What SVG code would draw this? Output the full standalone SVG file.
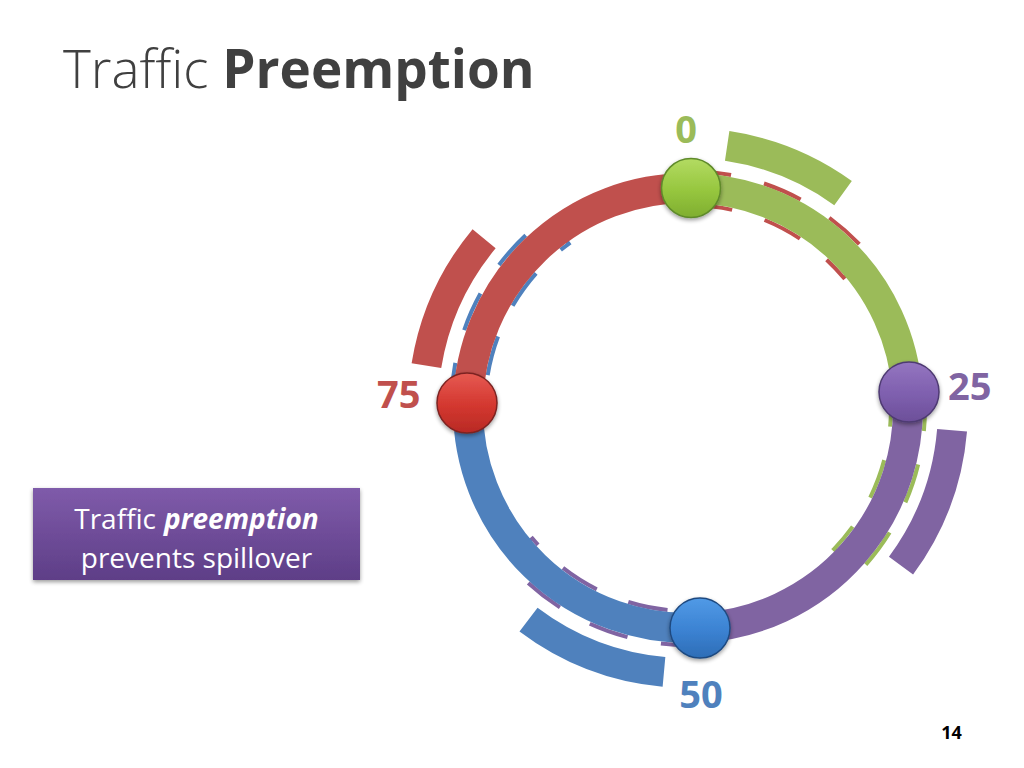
<svg xmlns="http://www.w3.org/2000/svg" width="1024" height="768" viewBox="0 0 1024 768">
  <defs>
    <linearGradient id="gGreen" x1="0" y1="0" x2="0" y2="1">
      <stop offset="0" stop-color="#B3DB62"/>
      <stop offset="0.55" stop-color="#96C63E"/>
      <stop offset="1" stop-color="#7FAE30"/>
    </linearGradient>
    <linearGradient id="gRed" x1="0" y1="0" x2="0" y2="1">
      <stop offset="0" stop-color="#E65A52"/>
      <stop offset="0.55" stop-color="#D3372F"/>
      <stop offset="1" stop-color="#B82A25"/>
    </linearGradient>
    <linearGradient id="gPurple" x1="0" y1="0" x2="0" y2="1">
      <stop offset="0" stop-color="#9475C0"/>
      <stop offset="0.55" stop-color="#7E5FAE"/>
      <stop offset="1" stop-color="#6C4F99"/>
    </linearGradient>
    <linearGradient id="gBlue" x1="0" y1="0" x2="0" y2="1">
      <stop offset="0" stop-color="#519AE6"/>
      <stop offset="0.55" stop-color="#3B82D2"/>
      <stop offset="1" stop-color="#2E6DB6"/>
    </linearGradient>
    <linearGradient id="gBox" x1="0" y1="0" x2="0" y2="1">
      <stop offset="0" stop-color="#7F5BAA"/>
      <stop offset="1" stop-color="#5E3E87"/>
    </linearGradient>
    <filter id="shadow" x="-20%" y="-20%" width="140%" height="150%">
      <feGaussianBlur in="SourceAlpha" stdDeviation="2"/>
      <feOffset dx="0" dy="2" result="b"/>
      <feComponentTransfer><feFuncA type="linear" slope="0.4"/></feComponentTransfer>
      <feMerge><feMergeNode/><feMergeNode in="SourceGraphic"/></feMerge>
    </filter>
  </defs>
  <style>
    .ghost { fill: none; stroke-width: 4; stroke-dasharray: 40 34; }
    .main { fill: none; stroke-width: 30; stroke-linecap: butt; }
    .outer { fill: none; stroke-width: 30; stroke-linecap: butt; }
    .node { stroke-width: 1.5; }
    .lbl { font-family: "Open Sans", "Noto Sans", "DejaVu Sans", sans-serif; font-weight: bold; font-size: 38px; }
    .boxtxt { font-family: "Open Sans", "Noto Sans", sans-serif; font-size: 28px; fill: #FFFFFF; }
    .red { stroke: #C0504D; }
    .green { stroke: #9BBB59; }
    .purple { stroke: #8064A2; }
    .blue { stroke: #4F81BD; }
  </style>

  <rect width="1024" height="768" fill="#FFFFFF"/>

  <text x="63" y="88" font-family="'Open Sans', 'Noto Sans', sans-serif" font-size="53" fill="#404040"><tspan font-weight="300">Traffic </tspan><tspan font-weight="bold">Preemption</tspan></text>

  <g id="connectors">
    <!-- dashed ghost outlines -->
    <path class="ghost red" d="M691.31,171.02 A237,237 0 0 1 869.55,255.66 L843.51,277.51 A203,203 0 0 0 690.83,205.02 Z"/>
    <path class="ghost green" d="M924.39,391.05 A237,237 0 0 1 858.48,572.63 L834.03,549.02 A203,203 0 0 0 890.48,393.49 Z"/>
    <path class="ghost purple" d="M700.82,644.65 A237,237 0 0 1 506.45,560.34 L532.49,538.49 A203,203 0 0 0 698.98,610.70 Z"/>
    <path class="ghost blue" d="M451.06,402.62 A237,237 0 0 1 548.69,216.26 L568.68,243.77 A203,203 0 0 0 485.05,403.39 Z"/>
    <!-- main ring segments -->
    <path class="main red" d="M468.06,403.0 A220,220 0 0 1 691.07,188.0"/>
    <path class="main green" d="M691.07,188.0 A220,220 0 0 1 907.4,392.3"/>
    <path class="main purple" d="M907.4,392.3 A220,220 0 0 1 699.9,627.7"/>
    <path class="main blue" d="M699.9,627.7 A220,220 0 0 1 468.06,403.0"/>
    <!-- outer bands -->
    <path class="outer red" d="M426.41,365.63 A265,265 0 0 1 484.11,238.73"/>
    <path class="outer green" d="M727.17,145.91 A265,265 0 0 1 843.05,193.07"/>
    <path class="outer purple" d="M952.07,430.18 A265,265 0 0 1 901.02,565.63"/>
    <path class="outer blue" d="M663.98,671.91 A265,265 0 0 1 528.52,619.64"/>
  </g>

  <g id="node-0">
    <circle class="node" cx="691" cy="188" r="29.5" fill="url(#gGreen)" stroke="#5E8A2A" filter="url(#shadow)"/>
    <text class="lbl" x="686" y="143" text-anchor="middle" fill="#9BBB59">0</text>
  </g>
  <g id="node-25">
    <circle class="node" cx="909" cy="392" r="30" fill="url(#gPurple)" stroke="#4E3A72" filter="url(#shadow)"/>
    <text class="lbl" x="948" y="400" fill="#8064A2">25</text>
  </g>
  <g id="node-50">
    <circle class="node" cx="700" cy="628" r="30" fill="url(#gBlue)" stroke="#1F4A80" filter="url(#shadow)"/>
    <text class="lbl" x="701" y="708" text-anchor="middle" fill="#4F81BD">50</text>
  </g>
  <g id="node-75">
    <circle class="node" cx="467" cy="403" r="30" fill="url(#gRed)" stroke="#7C2320" filter="url(#shadow)"/>
    <text class="lbl" x="377" y="408" fill="#C0504D">75</text>
  </g>

  <g id="textbox">
    <rect x="33" y="488" width="327" height="92" fill="url(#gBox)" filter="url(#shadow)"/>
    <text class="boxtxt" x="196.5" y="529" text-anchor="middle">Traffic<tspan dx="8" font-weight="bold" font-style="italic">preemption</tspan></text>
    <text class="boxtxt" x="196.5" y="568" text-anchor="middle">prevents spillover</text>
  </g>

  <text x="951.5" y="739" text-anchor="middle" font-family="'Open Sans', 'Noto Sans', sans-serif" font-weight="bold" font-size="18" fill="#000000">14</text>
</svg>
